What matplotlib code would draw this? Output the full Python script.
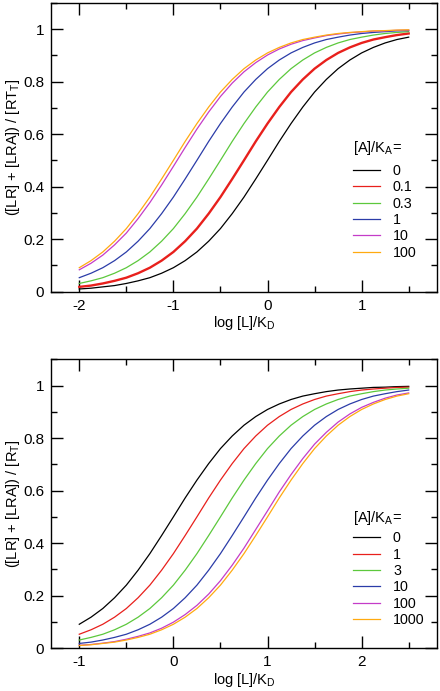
import matplotlib
matplotlib.use("Agg")
import matplotlib.pyplot as plt
from matplotlib.ticker import MultipleLocator

plt.rcParams['font.family'] = ['Liberation Sans', 'DejaVu Sans']
plt.rcParams['mathtext.fontset'] = 'custom'
plt.rcParams['mathtext.rm'] = 'Liberation Sans'
plt.rcParams['mathtext.it'] = 'Liberation Sans'

# x grids (log [L]/KD), step 0.125
x_top = [-2 + 0.125 * i for i in range(29)]
x_bot = [-1 + 0.125 * i for i in range(29)]

# top panel: positive modulator, [A]/KA = 0, 0.1, 0.3, 1, 10, 100
top_labels = ['0', '0.1', '0.3', '1', '10', '100']
top_black = [0.010, 0.013, 0.018, 0.023, 0.031, 0.041, 0.053, 0.070, 0.091, 0.118, 0.151, 0.192, 0.240, 0.297, 0.360,
             0.429, 0.500, 0.572, 0.640, 0.703, 0.760, 0.808, 0.849, 0.882, 0.909, 0.930, 0.947, 0.960, 0.969]
top_red = [0.018, 0.023, 0.031, 0.041, 0.053, 0.070, 0.091, 0.118, 0.151, 0.192, 0.240, 0.297, 0.360, 0.429, 0.500,
           0.572, 0.640, 0.703, 0.760, 0.808, 0.849, 0.882, 0.909, 0.930, 0.947, 0.960, 0.969, 0.977, 0.983]
top_green = [0.031, 0.041, 0.053, 0.070, 0.091, 0.118, 0.151, 0.192, 0.240, 0.297, 0.360, 0.429, 0.500, 0.572, 0.640,
             0.703, 0.760, 0.808, 0.849, 0.882, 0.909, 0.930, 0.947, 0.960, 0.969, 0.977, 0.983, 0.987, 0.990]
top_blue = [0.053, 0.070, 0.091, 0.118, 0.151, 0.192, 0.240, 0.297, 0.360, 0.429, 0.500, 0.572, 0.640, 0.703, 0.760,
            0.808, 0.849, 0.882, 0.909, 0.930, 0.947, 0.960, 0.969, 0.977, 0.983, 0.987, 0.990, 0.993, 0.994]
top_purple = [0.083, 0.108, 0.139, 0.178, 0.223, 0.278, 0.339, 0.406, 0.477, 0.549, 0.619, 0.684, 0.743, 0.794, 0.837,
              0.872, 0.901, 0.924, 0.942, 0.956, 0.966, 0.975, 0.981, 0.986, 0.989, 0.992, 0.993, 0.995, 0.996]
top_orange = [0.091, 0.118, 0.151, 0.192, 0.240, 0.297, 0.360, 0.429, 0.500, 0.572, 0.640, 0.703, 0.760, 0.808, 0.849,
              0.882, 0.909, 0.930, 0.947, 0.960, 0.969, 0.977, 0.983, 0.987, 0.990, 0.993, 0.994, 0.996, 0.997]

# bottom panel: negative modulator, [A]/KA = 0, 1, 3, 10, 100, 1000
bot_labels = ['0', '1', '3', '10', '100', '1000']
bot_black = [0.091, 0.118, 0.151, 0.192, 0.240, 0.297, 0.360, 0.429, 0.500, 0.572, 0.640, 0.703, 0.760, 0.808, 0.849,
             0.882, 0.909, 0.930, 0.947, 0.960, 0.969, 0.977, 0.983, 0.987, 0.990, 0.993, 0.994, 0.996, 0.997]
bot_red = [0.053, 0.070, 0.091, 0.118, 0.151, 0.192, 0.240, 0.297, 0.360, 0.429, 0.500, 0.572, 0.640, 0.703, 0.760,
           0.808, 0.849, 0.882, 0.909, 0.930, 0.947, 0.960, 0.969, 0.977, 0.983, 0.987, 0.990, 0.993, 0.994]
bot_green = [0.031, 0.041, 0.053, 0.070, 0.091, 0.118, 0.151, 0.192, 0.240, 0.297, 0.360, 0.429, 0.500, 0.572, 0.640,
             0.703, 0.760, 0.808, 0.849, 0.882, 0.909, 0.930, 0.947, 0.960, 0.969, 0.977, 0.983, 0.987, 0.990]
bot_blue = [0.018, 0.023, 0.031, 0.041, 0.053, 0.070, 0.091, 0.118, 0.151, 0.192, 0.240, 0.297, 0.360, 0.429, 0.500,
            0.572, 0.640, 0.703, 0.760, 0.808, 0.849, 0.882, 0.909, 0.930, 0.947, 0.960, 0.969, 0.977, 0.983]
bot_purple = [0.011, 0.014, 0.019, 0.025, 0.034, 0.045, 0.058, 0.076, 0.099, 0.128, 0.163, 0.206, 0.257, 0.316, 0.381,
              0.452, 0.523, 0.595, 0.661, 0.722, 0.777, 0.822, 0.861, 0.892, 0.917, 0.936, 0.952, 0.964, 0.972]
bot_orange = [0.010, 0.013, 0.018, 0.023, 0.031, 0.041, 0.053, 0.070, 0.091, 0.118, 0.151, 0.192, 0.240, 0.297, 0.360,
              0.429, 0.500, 0.572, 0.640, 0.703, 0.760, 0.808, 0.849, 0.882, 0.909, 0.930, 0.947, 0.960, 0.969]

colors = ['black', '#e8201c', '#5cc83c', '#2b3ca8', '#c43cc8', '#ffaa10']

fig = plt.figure(figsize=(4.4, 6.91), dpi=100)
ax1 = fig.add_axes([0.116, 0.578, 0.877, 0.418])
ax2 = fig.add_axes([0.116, 0.062, 0.877, 0.418])


def style(ax, xlim, xticks, ylab):
    ax.set_xlim(*xlim)
    ax.set_ylim(0, 1.1)
    ax.set_xticks(xticks)
    ax.set_xticklabels([str(t) for t in xticks])
    ax.set_yticks([0, 0.2, 0.4, 0.6, 0.8, 1.0])
    ax.set_yticklabels(['0', '0.2', '0.4', '0.6', '0.8', '1'])
    ax.xaxis.set_minor_locator(MultipleLocator(0.5))
    ax.yaxis.set_minor_locator(MultipleLocator(0.1))
    ax.tick_params(which='both', direction='in', top=True, right=True, width=1.0, labelsize=11)
    ax.tick_params(which='major', length=8.5, pad=5)
    ax.tick_params(which='minor', length=4.3)
    for s in ax.spines.values():
        s.set_linewidth(1.0)
    ax.set_xlabel('log [L]/K$_\\mathrm{D}$', fontsize=10.5)
    ax.xaxis.set_label_coords(0.5, -0.078)
    ax.set_ylabel(ylab, fontsize=10.5)
    ax.yaxis.set_label_coords(-0.074, 0.5)


top_series = [top_black, top_red, top_green, top_blue, top_purple, top_orange]
top_lw = [0.9, 1.7, 0.9, 0.9, 0.9, 0.9]
for ys, c, lab, lw in zip(top_series, colors, top_labels, top_lw):
    ax1.plot(x_top, ys, color=c, lw=lw, label=lab)
style(ax1, (-2.3, 1.8), [-2, -1, 0, 1], '([LR] + [LRA]) / [RT$_\\mathrm{T}$]')

bot_series = [bot_black, bot_red, bot_green, bot_blue, bot_purple, bot_orange]
for ys, c, lab in zip(bot_series, colors, bot_labels):
    ax2.plot(x_bot, ys, color=c, lw=0.9, label=lab)
style(ax2, (-1.3, 2.8), [-1, 0, 1, 2], '([LR] + [LRA]) / [R$_\\mathrm{T}$]')

for ax, ytitle, yleg in [(ax1, 0.482, 0.443), (ax2, 0.437, 0.405)]:
    ax.text(0.782, ytitle, '[A]/K$_\\mathrm{A}$=', transform=ax.transAxes, fontsize=10.5, va='baseline', ha='left')
    leg = ax.legend(loc='upper left', bbox_to_anchor=(0.782, yleg), frameon=False, fontsize=10.3,
                    handlelength=1.87, handletextpad=0.94, labelspacing=0.17,
                    borderpad=0, borderaxespad=0)
    for h in leg.get_lines():
        h.set_linewidth(0.9)

fig.savefig('out.png', dpi=100)
